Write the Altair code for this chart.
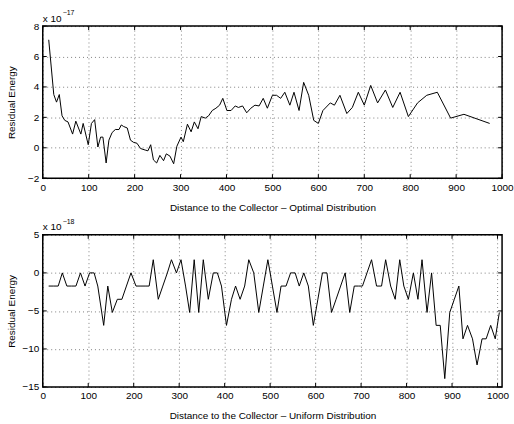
import altair as alt
import pandas as pd

# ---------------- data ----------------
top_x = [13, 24, 30, 36, 42, 48, 55, 65, 72, 83,
         88, 99, 106, 113, 120, 126, 131, 138, 144, 151,
         158, 166, 171, 176, 184, 191, 198, 205, 213, 223,
         229, 235, 241, 248, 255, 263, 269, 277, 285, 292,
         301, 306, 315, 323, 330, 338, 345, 354, 361, 369,
         377, 385, 392, 401, 410, 419, 426, 435, 444, 453,
         462, 471, 480, 489, 500, 509, 518, 527, 538, 547,
         558, 568, 579, 590, 600, 610, 626, 635, 647, 662,
         674, 687, 700, 714, 729, 746, 762, 778, 796, 816,
         836, 859, 888, 917, 973]
top_y = [7.1, 3.5, 3.0, 3.5, 2.1, 1.8, 1.7, 0.9, 1.75, 0.9,
         1.6, 0.2, 1.6, 1.85, 0.05, 0.7, 0.7, -1.0, 0.5, 1.0,
         1.2, 1.2, 1.5, 1.4, 1.3, 0.5, 0.35, 0.3, -0.05, -0.15,
         -0.2, 0.2, -0.8, -1.0, -0.5, -0.85, -0.4, -0.55, -1.05, 0.1,
         0.7, 0.4, 1.55, 1.05, 1.7, 1.25, 2.05, 1.95, 2.1, 2.45,
         2.6, 2.8, 3.25, 2.45, 2.45, 2.75, 2.65, 2.75, 2.3, 2.6,
         2.8, 2.75, 3.25, 2.6, 3.45, 3.45, 3.25, 3.65, 2.8, 3.65,
         2.45, 4.3, 3.45, 1.8, 1.6, 2.45, 2.95, 2.8, 3.45, 2.25,
         2.65, 3.65, 2.8, 4.1, 2.95, 3.8, 2.65, 3.65, 2.05, 2.95,
         3.45, 3.65, 1.95, 2.2, 1.6]

bot_x = [13, 23, 34, 43, 53, 63, 73, 83, 93, 103,
         113, 121, 134, 143, 153, 164, 174, 184, 194, 205,
         216, 225, 234, 243, 254, 264, 274, 283, 294, 304,
         314, 323, 333, 343, 353, 364, 375, 384, 393, 404,
         415, 424, 434, 444, 453, 464, 475, 485, 495, 505,
         515, 524, 535, 545, 555, 564, 574, 584, 595, 605,
         615, 625, 635, 645, 655, 665, 675, 685, 694, 703,
         713, 723, 734, 745, 754, 765, 775, 785, 794, 804,
         815, 825, 834, 845, 855, 865, 874, 884, 895, 905,
         915, 924, 934, 945, 955, 966, 975, 985, 995, 1004]
bot_y = [-1.73, -1.73, -1.73, 0, -1.73, -1.73, -1.73, 0, -1.73, 0,
         0, -1.73, -6.9, -1.73, -5.2, -3.47, -3.47, -1.73, 0, -1.73,
         -1.73, -1.73, -1.73, 1.73, -3.47, -1.73, 0, 1.73, 0, 1.73,
         -1.73, -5.2, 1.73, -5.2, 1.73, -3.47, 0, 0, -1.73, -6.9,
         -3.47, -1.73, -3.47, -1.73, 1.73, 0, -5.2, -1.73, 1.73, -1.73,
         -5.2, -1.73, -1.73, 0, 0, -1.73, 0, -1.73, -6.9, -3.47,
         0, 0, -5.2, -3.47, -1.73, 0, -5.2, -1.73, -1.73, -1.73,
         0, 1.73, -1.73, -1.73, 1.73, -1.73, -3.47, 1.73, -1.73, -3.47,
         0, -3.47, 1.73, -5.2, 0, -6.9, -6.9, -13.9, -5.2, -3.47,
         -1.73, -8.67, -6.9, -8.67, -12.1, -8.67, -8.67, -6.9, -8.67, -5.2]

x_ticks = [0, 100, 200, 300, 400, 500, 600, 700, 800, 900, 1000]
top_y_ticks = [-2, 0, 2, 4, 6, 8]
bot_y_ticks = [-15, -10, -5, 0, 5]

top_title = "Distance to the Collector \u2013 Optimal Distribution"
bot_title = "Distance to the Collector \u2013 Uniform Distribution"
y_title = "Residual Energy"

# ---------------- styling ----------------
W, H = 462, 153
FONT = "Liberation Sans"
TICK = 4


def panel(xs, ys, xdom, ydom, yticks, xtitle, exp_text):
    df = pd.DataFrame({"x": xs, "y": ys})
    xsc = alt.Scale(domain=xdom, nice=False, zero=False)
    ysc = alt.Scale(domain=ydom, nice=False, zero=False)
    xax = alt.Axis(values=x_ticks, format="d", title=xtitle, labelFlush=False,
                   grid=True, gridDash=[1, 3], gridColor="#000", gridOpacity=0.5,
                   domain=False, tickSize=0, labelPadding=4, titlePadding=10)
    yax = alt.Axis(values=yticks, format="d", title=y_title, labelFlush=False,
                   grid=True, gridDash=[1, 3], gridColor="#000", gridOpacity=0.5,
                   domain=False, tickSize=0, labelPadding=4,
                   titleX=-26, titleY=H / 2)

    line = alt.Chart(df).mark_line(color="black", strokeWidth=1, clip=True).encode(
        x=alt.X("x:Q", scale=xsc, axis=xax, title=xtitle),
        y=alt.Y("y:Q", scale=ysc, axis=yax, title=y_title),
    )

    xt = pd.DataFrame({"x": x_ticks})
    yt = pd.DataFrame({"y": yticks})
    xbot = alt.Chart(xt).mark_rule(color="black", strokeWidth=1).encode(
        x=alt.X("x:Q", scale=xsc, axis=xax, title=xtitle),
        y=alt.value(H), y2=alt.value(H - TICK))
    xtop = alt.Chart(xt).mark_rule(color="black", strokeWidth=1).encode(
        x=alt.X("x:Q", scale=xsc, axis=xax, title=xtitle),
        y=alt.value(0), y2=alt.value(TICK))
    yl = alt.Chart(yt).mark_rule(color="black", strokeWidth=1).encode(
        y=alt.Y("y:Q", scale=ysc, axis=yax, title=y_title),
        x=alt.value(0), x2=alt.value(TICK))
    yr = alt.Chart(yt).mark_rule(color="black", strokeWidth=1).encode(
        y=alt.Y("y:Q", scale=ysc, axis=yax, title=y_title),
        x=alt.value(W), x2=alt.value(W - TICK))

    base_txt = alt.Chart(pd.DataFrame({"s": ["x 10"]})).mark_text(
        align="left", baseline="alphabetic", font=FONT, fontSize=10, color="black"
    ).encode(text="s:N", x=alt.value(0), y=alt.value(-4.5))
    exp_txt = alt.Chart(pd.DataFrame({"s": [exp_text]})).mark_text(
        align="left", baseline="alphabetic", font=FONT, fontSize=7, color="black"
    ).encode(text="s:N", x=alt.value(20), y=alt.value(-11))

    return alt.layer(line, xbot, xtop, yl, yr, base_txt, exp_txt).properties(width=W, height=H)


top = panel(top_x, top_y, [0, 1000], [-2, 8], top_y_ticks, top_title, "\u221217")
bot = panel(bot_x, bot_y, [0, 1010], [-15, 5], bot_y_ticks, bot_title, "\u221218")

chart = alt.vconcat(top, bot, spacing=4).properties(
    padding={"left": 6, "top": 7, "right": 0, "bottom": 0}
).configure(font=FONT, background="white").configure_view(
    stroke="black", strokeWidth=1.5
).configure_axis(
    labelFont=FONT, titleFont=FONT, labelFontSize=10, titleFontSize=10,
    labelColor="black", titleColor="black", titleFontWeight="normal"
)

chart.save("out.html", embed_options={"renderer": "svg", "actions": False})
